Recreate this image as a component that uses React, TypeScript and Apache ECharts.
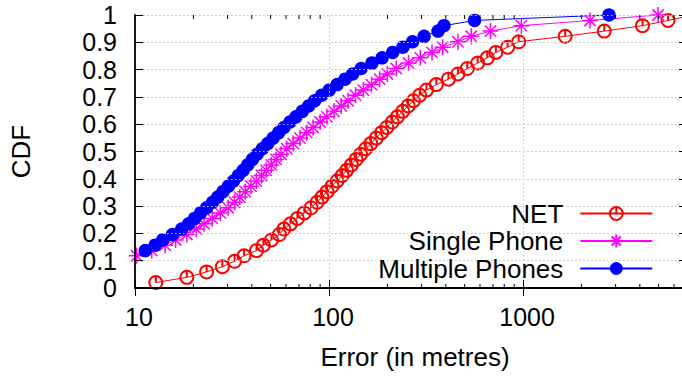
import React, { useEffect, useRef } from 'react';
import * as echarts from 'echarts';

// ---- data ----
const seriesNames = ['NET', 'Single Phone', 'Multiple Phones'];

const netError = [12.8, 18.5, 23.4, 28.2, 32.6, 36.5, 42.3, 45.9, 50.5, 55.5, 58.5, 63.3, 68.7, 74.6, 80.8, 86.8, 92.0, 97.7, 103.8, 110.0, 116.8, 123.2, 130.4, 138.0, 145.7, 154.6, 164.2, 175.2, 186.7, 198.6, 211.7, 225.1, 239.9, 256.0, 272.3, 293.4, 317.8, 357.3, 412.7, 461.7, 516.0, 584.1, 654.3, 724.3, 832.6, 949.4, 1649, 2623, 4128, 5588, 7570];
const netCdf = [0.020, 0.039, 0.059, 0.078, 0.098, 0.118, 0.137, 0.157, 0.176, 0.196, 0.216, 0.235, 0.255, 0.275, 0.294, 0.314, 0.333, 0.353, 0.373, 0.392, 0.412, 0.431, 0.451, 0.471, 0.490, 0.510, 0.529, 0.549, 0.569, 0.588, 0.608, 0.627, 0.647, 0.667, 0.686, 0.706, 0.725, 0.745, 0.765, 0.784, 0.804, 0.824, 0.843, 0.863, 0.882, 0.902, 0.922, 0.941, 0.961, 0.980, 1.000];

const singleError = [10.2, 12.2, 14.3, 16.2, 18.5, 20.7, 22.7, 25.0, 27.5, 30.2, 32.6, 34.7, 37.0, 39.6, 42.2, 44.9, 47.5, 50.4, 53.4, 56.5, 60.6, 65.4, 70.9, 76.8, 82.8, 90.0, 97.5, 106.1, 115.6, 125.4, 137.0, 150.3, 165.6, 182.4, 199.8, 222.2, 256.9, 295.3, 339.6, 385.5, 461.7, 541.0, 679.7, 980, 2215, 4965];
const singleCdf = [0.118, 0.137, 0.157, 0.176, 0.196, 0.216, 0.235, 0.255, 0.275, 0.294, 0.314, 0.333, 0.353, 0.373, 0.392, 0.412, 0.431, 0.451, 0.471, 0.490, 0.510, 0.529, 0.549, 0.569, 0.588, 0.608, 0.627, 0.647, 0.667, 0.686, 0.706, 0.725, 0.745, 0.765, 0.784, 0.804, 0.824, 0.843, 0.863, 0.882, 0.902, 0.922, 0.941, 0.961, 0.980, 1.000];

const multiError = [11.3, 12.7, 13.9, 15.6, 17.4, 18.9, 20.3, 21.8, 23.4, 25.1, 26.7, 28.4, 30.3, 32.2, 34.1, 36.1, 38.1, 40.3, 42.6, 45.3, 48.3, 51.5, 55.0, 58.6, 62.9, 67.5, 72.8, 78.6, 84.4, 91.6, 100.2, 110.1, 121.0, 132.4, 146.4, 166.4, 187.7, 212.9, 240.3, 269.4, 309.0, 364.6, 391.4, 562.4, 2774];
const multiCdf = [0.137, 0.157, 0.176, 0.196, 0.216, 0.235, 0.255, 0.275, 0.294, 0.314, 0.333, 0.353, 0.373, 0.392, 0.412, 0.431, 0.451, 0.471, 0.490, 0.510, 0.529, 0.549, 0.569, 0.588, 0.608, 0.627, 0.647, 0.667, 0.686, 0.706, 0.725, 0.745, 0.765, 0.784, 0.804, 0.824, 0.843, 0.863, 0.882, 0.902, 0.922, 0.941, 0.961, 0.980, 1.000];

const xMin = 10;
const xMax = 7000;
const minorTickValues = [20, 30, 40, 50, 60, 70, 80, 90, 200, 300, 400, 500, 600, 700, 800, 900, 2000, 3000, 4000, 5000, 6000, 7000];

const FONT = '"Liberation Sans", Arial, Helvetica, sans-serif';
const FS = 25;
const FS_BIG = 26;

const zip = (xs: number[], ys: number[]) => xs.map((x, i) => [x, ys[i]]);

const circleTick = 'path://M0,-6A6,6,0,1,1,0,6A6,6,0,1,1,0,-6ZM0,-6L0,0';
const starPath = 'path://M-6,0L6,0M0,-6L0,6M-4.24,-4.24L4.24,4.24M-4.24,4.24L4.24,-4.24';

function buildOption(): any {
  const tickCommon = {
    show: true,
    inside: true,
    length: 8,
    lineStyle: { color: '#000', width: 1 },
  };
  const axisLineCommon = { show: true, lineStyle: { color: '#000', width: 1.8 } };
  const gridLine = { show: true, lineStyle: { color: '#c4c4c4', width: 1, type: [1.5, 2.5] } };

  const legendCommon = {
    orient: 'horizontal',
    right: 36.7,
    itemWidth: 72,
    itemHeight: 16,
    align: 'right',
    padding: 0,
    selectedMode: false,
    textStyle: { fontSize: FS_BIG, color: '#000', fontFamily: FONT, padding: [0, 12, 0, 0] },
  };

  return {
    animation: false,
    backgroundColor: '#fff',
    textStyle: { fontFamily: FONT },
    grid: { left: 133, right: 3, top: 15, bottom: 89, containLabel: false },
    xAxis: [
      {
        type: 'log',
        logBase: 10,
        min: xMin,
        max: xMax,
        position: 'bottom',
        z: 3,
        axisLine: axisLineCommon,
        axisTick: tickCommon,
        splitLine: gridLine,
        minorTick: { show: false },
        axisLabel: {
          show: true,
          color: '#000',
          fontSize: FS,
          fontFamily: FONT,
          margin: 16,
          padding: [0, 0, 0, 8],
          formatter: (v: number) => {
            const l = Math.log10(v);
            return Math.abs(l - Math.round(l)) < 1e-6 ? String(Math.round(v)) : '';
          },
        },
        name: 'Error (in metres)',
        nameLocation: 'middle',
        nameGap: 56,
        nameTextStyle: { fontSize: FS_BIG, color: '#000', fontFamily: FONT, padding: [0, 0, 0, 8] },
      },
      {
        type: 'log',
        logBase: 10,
        min: xMin,
        max: xMax,
        position: 'top',
        z: 3,
        axisLine: axisLineCommon,
        axisTick: tickCommon,
        splitLine: { show: false },
        axisLabel: { show: false },
      },
    ],
    yAxis: [
      {
        type: 'value',
        min: 0,
        max: 1,
        interval: 0.1,
        position: 'left',
        z: 3,
        axisLine: axisLineCommon,
        axisTick: tickCommon,
        splitLine: gridLine,
        axisLabel: {
          color: '#000',
          fontSize: FS,
          fontFamily: FONT,
          margin: 18,
          formatter: (v: number) => (v === 0 ? '0' : v >= 0.999 ? '1' : v.toFixed(1)),
        },
        name: 'CDF',
        nameLocation: 'middle',
        nameGap: 101,
        nameTextStyle: { fontSize: FS_BIG, color: '#000', fontFamily: FONT },
      },
      {
        type: 'value',
        min: 0,
        max: 1,
        interval: 0.1,
        position: 'right',
        z: 3,
        axisLine: axisLineCommon,
        axisTick: tickCommon,
        splitLine: { show: false },
        axisLabel: { show: false },
      },
    ],
    legend: [
      { ...legendCommon, top: 200.5, data: [seriesNames[0]] },
      { ...legendCommon, top: 228, data: [seriesNames[1]] },
      { ...legendCommon, top: 255.5, data: [seriesNames[2]] },
    ],
    graphic: [
      {
        type: 'rect',
        z: 1,
        silent: true,
        shape: { x: 317, y: 190, width: 361, height: 89.5 },
        style: { fill: '#fff' },
      },
    ],
    series: [
      {
        type: 'custom',
        name: 'minorTicks',
        xAxisIndex: 0,
        yAxisIndex: 0,
        silent: true,
        z: 4,
        data: minorTickValues.map((v) => [v, 0]),
        renderItem: (_params: any, api: any) => {
          const v = api.value(0);
          const b = api.coord([v, 0]);
          const t = api.coord([v, 1]);
          const st = { stroke: '#000', lineWidth: 1 };
          return {
            type: 'group',
            children: [
              { type: 'line', shape: { x1: b[0], y1: b[1], x2: b[0], y2: b[1] - 4 }, style: st },
              { type: 'line', shape: { x1: t[0], y1: t[1], x2: t[0], y2: t[1] + 4 }, style: st },
            ],
          };
        },
      },
      {
        name: seriesNames[0],
        type: 'line',
        z: 2,
        data: zip(netError, netCdf),
        symbol: circleTick,
        symbolSize: 13,
        showAllSymbol: true,
        lineStyle: { color: '#ff0000', width: 1 },
        itemStyle: { color: 'rgba(0,0,0,0)', borderColor: '#ff0000', borderWidth: 2 },
      },
      {
        name: seriesNames[1],
        type: 'line',
        z: 2,
        data: zip(singleError, singleCdf),
        symbol: starPath,
        symbolSize: 16,
        showAllSymbol: true,
        lineStyle: { color: '#ff00ff', width: 1 },
        itemStyle: { color: 'rgba(0,0,0,0)', borderColor: '#ff00ff', borderWidth: 1.5 },
      },
      {
        name: seriesNames[2],
        type: 'line',
        z: 2,
        data: zip(multiError, multiCdf),
        symbol: 'circle',
        symbolSize: 13.5,
        showAllSymbol: true,
        lineStyle: { color: '#0000ff', width: 1 },
        itemStyle: { color: '#0000ff', borderWidth: 0 },
      },
    ],
  };
}

export default function App() {
  const ref = useRef<HTMLDivElement>(null);
  useEffect(() => {
    if (!ref.current) return;
    const chart = echarts.init(ref.current, null, { renderer: 'svg' });
    chart.setOption(buildOption());
    return () => chart.dispose();
  }, []);
  return (
    <div
      style={{
        position: 'fixed',
        left: 0,
        top: 0,
        width: 682,
        height: 377,
        overflow: 'hidden',
        background: '#fff',
      }}
    >
      <div ref={ref} style={{ width: 690, height: 377 }} />
    </div>
  );
}
